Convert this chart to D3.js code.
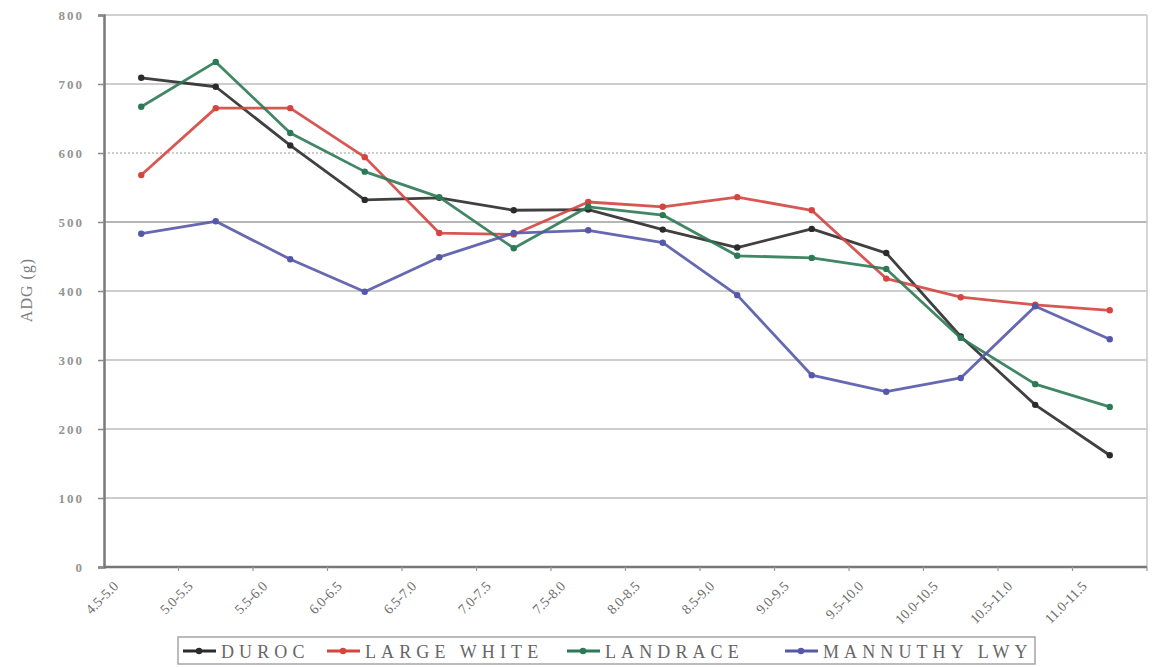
<!DOCTYPE html>
<html>
<head>
<meta charset="utf-8">
<script src="https://cdn.jsdelivr.net/npm/d3@7"></script>
<style>
  body { margin: 0; background: #fff; }
  svg { display: block; font-family: "Liberation Serif", "DejaVu Serif", serif; }
</style>
</head>
<body>
<svg id="chart"></svg>
<script>
// categories (live weight range, kg)
const categories = ["4.5-5.0", "5.0-5.5", "5.5-6.0", "6.0-6.5", "6.5-7.0", "7.0-7.5", "7.5-8.0",
    "8.0-8.5", "8.5-9.0", "9.0-9.5", "9.5-10.0", "10.0-10.5", "10.5-11.0", "11.0-11.5"];

// ADG (g) per breed
const duroc = [709, 696, 611, 532, 535, 517, 518, 489, 463, 490, 455, 334, 235, 162];
const largeWhite = [568, 665, 665, 594, 484, 482, 529, 522, 536, 517, 418, 391, 380, 372];
const landrace = [667, 732, 629, 573, 536, 462, 522, 510, 451, 448, 432, 332, 265, 232];
const mannuthy = [483, 501, 446, 399, 449, 484, 488, 470, 394, 278, 254, 274, 378, 330];

const seriesNames = ["DUROC", "LARGE WHITE", "LANDRACE", "MANNUTHY LWY"];
const yTicks = [0, 100, 200, 300, 400, 500, 600, 700, 800];

const seriesColors = ["#2b2b2b", "#d5453f", "#2c7a55", "#5558a8"];
const allSeries = [duroc, largeWhite, landrace, mannuthy];

const svgWidth = 1154;
const svgHeight = 667;
const margin = { top: 15, right: 7, bottom: 100, left: 104 };
const width = svgWidth - margin.left - margin.right;
const height = svgHeight - margin.top - margin.bottom;

const svg = d3.select("#chart")
    .attr("width", svgWidth)
    .attr("height", svgHeight);

const g = svg.append("g")
    .attr("transform", `translate(${margin.left}, ${margin.top})`);

// scales
const xScale = d3.scaleBand()
    .domain(categories)
    .range([0, width])
    .padding(0);

const yScale = d3.scaleLinear()
    .domain([0, 800])
    .range([height, 0]);

// grid lines
g.selectAll(".grid")
    .data(yTicks.filter(t => t > 0 && t < 800))
    .enter()
    .append("line")
    .attr("class", "grid")
    .attr("x1", 0)
    .attr("x2", width)
    .attr("y1", d => yScale(d))
    .attr("y2", d => yScale(d))
    .attr("stroke", d => d === 500 ? "#9e9e9e" : "#bcbcbc")
    .attr("stroke-width", 1.6)
    .attr("stroke-dasharray", d => d === 600 ? "2,2" : null);

// plot frame (top and right)
g.append("line")
    .attr("x1", 0).attr("x2", width)
    .attr("y1", 0).attr("y2", 0)
    .attr("stroke", "#c0c0c0").attr("stroke-width", 1.5);
g.append("line")
    .attr("x1", width).attr("x2", width)
    .attr("y1", 0).attr("y2", height)
    .attr("stroke", "#c8c8c8").attr("stroke-width", 1.5);

// y axis
const yAxis = d3.axisLeft(yScale)
    .tickValues(yTicks)
    .tickSize(6)
    .tickPadding(14);

const yAxisG = g.append("g")
    .attr("class", "y axis")
    .call(yAxis);

yAxisG.select(".domain").attr("stroke", "#7a7a7a").attr("stroke-width", 2.5);
yAxisG.selectAll(".tick line").attr("stroke", "#8a8a8a").attr("stroke-width", 1.5);
yAxisG.selectAll(".tick text")
    .attr("fill", "#949494")
    .attr("font-size", "13px")
    .attr("font-weight", "bold")
    .style("letter-spacing", "2px")
    .style("font-family", "Liberation Serif, serif");

// x axis: ticks sit between categories
g.append("line")
    .attr("x1", 0).attr("x2", width)
    .attr("y1", height).attr("y2", height)
    .attr("stroke", "#777").attr("stroke-width", 2.5);

g.selectAll(".xtick")
    .data(categories)
    .enter()
    .append("line")
    .attr("class", "xtick")
    .attr("x1", d => xScale(d) + xScale.bandwidth())
    .attr("x2", d => xScale(d) + xScale.bandwidth())
    .attr("y1", height)
    .attr("y2", height + 4)
    .attr("stroke", "#999")
    .attr("stroke-width", 1.2);

g.selectAll(".xlabel")
    .data(categories)
    .enter()
    .append("text")
    .attr("class", "xlabel")
    .attr("transform", d => `translate(${xScale(d) + xScale.bandwidth() / 2 - 22}, ${height + 20}) rotate(-45)`)
    .attr("text-anchor", "end")
    .attr("fill", "#6e6e6e")
    .attr("font-size", "14px")
    .text(d => d);

// y axis title
svg.append("text")
    .attr("transform", `translate(32, 290) rotate(-90)`)
    .attr("text-anchor", "middle")
    .attr("fill", "#7c7c7c")
    .attr("font-size", "16px")
    .style("letter-spacing", "1px")
    .text("ADG (g)");

// lines and markers
const line = d3.line()
    .x((d, i) => xScale(categories[i]) + xScale.bandwidth() / 2)
    .y(d => yScale(d));

allSeries.forEach((values, k) => {
    g.append("path")
        .datum(values)
        .attr("fill", "none")
        .attr("stroke", seriesColors[k])
        .attr("stroke-width", 2.8)
        .attr("stroke-linejoin", "round")
        .attr("opacity", 0.9)
        .attr("d", line);

    g.selectAll(".pt" + k)
        .data(values)
        .enter()
        .append("circle")
        .attr("cx", (d, i) => xScale(categories[i]) + xScale.bandwidth() / 2)
        .attr("cy", d => yScale(d))
        .attr("r", 3.2)
        .attr("fill", seriesColors[k]);
});

// legend
const legendX = [183, 327, 567, 785];
const legend = svg.append("g");

legend.append("rect")
    .attr("x", 178)
    .attr("y", 637)
    .attr("width", 857)
    .attr("height", 27)
    .attr("fill", "#fff")
    .attr("stroke", "#a5a5a5")
    .attr("stroke-width", 1.5);

seriesNames.forEach((name, k) => {
    const lx = legendX[k];
    legend.append("line")
        .attr("x1", lx).attr("x2", lx + 33)
        .attr("y1", 651).attr("y2", 651)
        .attr("stroke", seriesColors[k])
        .attr("stroke-width", 2.8);
    legend.append("circle")
        .attr("cx", lx + 16).attr("cy", 651)
        .attr("r", 3.2)
        .attr("fill", seriesColors[k]);
    legend.append("text")
        .attr("x", lx + 38)
        .attr("y", 658)
        .attr("fill", "#666")
        .attr("font-size", "18px")
        .style("letter-spacing", "5.1px")
        .text(name);
});
</script>
</body>
</html>
